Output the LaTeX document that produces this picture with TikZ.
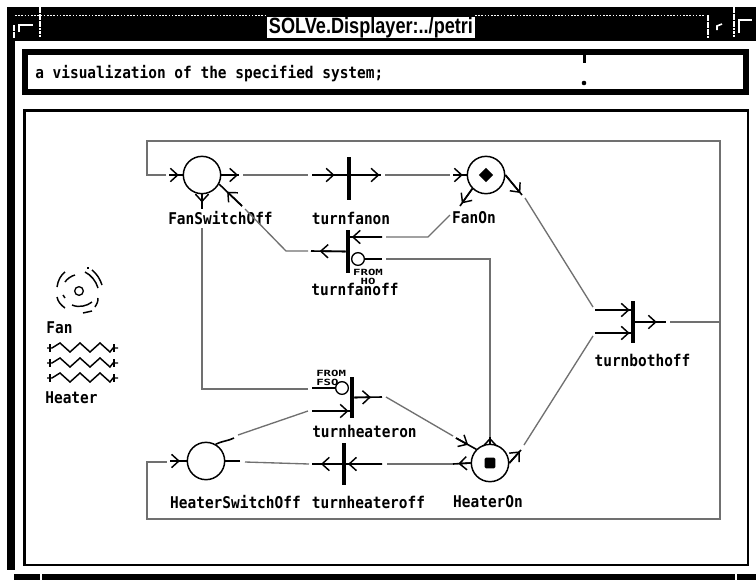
\documentclass[tikz,border=0pt]{standalone}
\usepackage{fontspec}
\usepackage{graphicx}
\usetikzlibrary{arrows.meta,calc}
\newfontfamily\pixfont{DejaVu Sans Mono}
\newfontfamily\titlefont{Liberation Sans}
\definecolor{arcgrey}{HTML}{707070}
\newcommand{\pix}[1]{\scalebox{1}[1.12]{\fontsize{10.88}{12}\pixfont\bfseries\selectfont #1}}
\newcommand{\mini}[1]{\scalebox{1.45}[1]{\fontsize{6.4}{7}\pixfont\bfseries\selectfont #1}}
\tikzset{
  place/.style={circle,draw=black,line width=1.1bp,minimum size=28bp,inner sep=0pt,fill=white},
  bar/.style={rectangle,fill=black,inner sep=0pt,minimum width=3bp},
  inhib/.style={circle,draw=black,line width=1bp,minimum size=9.5bp,inner sep=0pt,fill=white},
  lab/.style={inner sep=0pt,text=black},
  arc/.style={draw=arcgrey,line width=1bp},
  stub/.style={draw=black,line width=1.2bp},
  barb/.style={-{Straight Barb[length=5.5bp,width=10bp,line width=1.1bp]}},
  frame/.style={draw=black,fill=white},
  chrome/.style={fill=black,draw=none},
  tick/.style={draw=white,line width=.9bp,dash pattern=on 2bp off .6bp},
  dith/.style={draw=white,line width=.7bp,dash pattern=on 1.2bp off 1.2bp},
  icon/.style={draw=black,line width=1.1bp}
}
% black stub from #1 to #2, its barb's tip at fraction #3 of the way
\newcommand{\stubarrow}[3]{%
  \draw[stub] (#1) -- (#2);
  \draw[stub,barb] (#1) -- ($(#1)!#3!(#2)$);}
\begin{document}
\begin{tikzpicture}[x=0.75bp,y=-0.75bp]
\useasboundingbox (0,0) rectangle (756,580);
\fill[white] (0,0) rectangle (756,580);
% window chrome
\fill[chrome] (7,7) rectangle (756,41);
\fill[chrome] (7,41) rectangle (15,570);
\fill[chrome] (14,574) rectangle (756,580);
\draw[dith] (15,15) -- (267,15);
\draw[dith] (475,15) -- (705,15);
\draw[dith] (15,41) -- (756,41);
\draw[dith] (15,573) -- (756,573);
\draw[tick] (40,7) -- (40,38);
\draw[tick] (14,25) -- (14,38);
\draw[tick] (734,7) -- (734,38);
\draw[tick] (708,15) -- (708,38);
\draw[white,line width=1bp] (19,32) -- (19,25) -- (33,25);
\draw[white,line width=1bp] (739,33) -- (739,20) -- (752,20);
\draw[white,line width=1.2bp] (717,30) -- (717,26) -- (722,24);
\draw[tick] (41,574) -- (41,580);
\draw[tick] (736,574) -- (736,580);
\node[rectangle,fill=white,minimum width=156bp,minimum height=15.5bp,inner sep=0pt] (titlebox) at (371,27.5) {};
\node[lab] (title) at (titlebox.center) {\resizebox{153bp}{12bp}{\titlefont\bfseries SOLVe.Displayer:../petri}};
% message box
\draw[frame,line width=4.5bp] (25,52) rectangle (746,92);
\fill[black] (582.5,55) rectangle (585.5,63);
\fill[black] (584,83) circle (2.3);
\node[lab,anchor=west] (msg) at (35,74) {\pix{a visualization of the specified system;}};
% main frame
\draw[frame,line width=2bp] (24.5,110.5) rectangle (748,565);
% fan and heater icons
\node[circle,draw=black,line width=1bp,minimum size=6.5bp,inner sep=0pt] (fanhub) at (79,291) {};
\draw[icon] (57,287) .. controls (58,280) and (61,275) .. (65,272);
\draw[icon] (65,282) .. controls (67,279) and (71,276) .. (75,275);
\draw[icon] (92,270) .. controls (97,274) and (100,279) .. (102,285);
\draw[icon] (85,272) .. controls (91,275) and (96,281) .. (98,288);
\draw[icon] (57,297) .. controls (58,302) and (61,305) .. (65,308);
\draw[icon] (63,295) -- (65,298);
\draw[icon] (72,305) .. controls (79,308) and (87,306) .. (92,302);
\draw[icon] (98,298) .. controls (98,302) and (97,304) .. (95,307);
\draw[icon] (83,313) -- (92,311);
\draw[icon] (87,268) -- (89,268);
\foreach \yy in {348,363,378}{
  \draw[icon,line join=miter] (47,\yy) -- (52,\yy) -- (60,\yy-5) -- (70,\yy+4) -- (80,\yy-5) -- (90,\yy+4) -- (100,\yy-5) -- (110,\yy+4) -- (113,\yy) -- (118,\yy);
  \draw[icon] (50,\yy-4) -- (50,\yy+4);
  \draw[icon] (114,\yy-4) -- (114,\yy+4);
}
\node[lab] (fanlabel) at (59.5,328) {\pix{Fan}};
\node[lab] (heaterlabel) at (71.5,398) {\pix{Heater}};
% bend points of the long loop
\coordinate (loopTL) at (147,141);
\coordinate (loopTR) at (720,141);
\coordinate (loopBR) at (720,519);
\coordinate (loopBL) at (147,519);
\coordinate (loopFS) at (147,175);
\coordinate (loopHS) at (147,462);
\coordinate (loopR) at (720,322);
% places
\node[place] (fs) at (202,175) {};
\node[place] (fo) at (486,175) {};
\node[place] (hs) at (206,461) {};
\node[place] (ho) at (490,463) {};
\node[rectangle,fill=black,rotate=45,minimum size=7.5bp,inner sep=0pt] (fotok) at (486,175) {};
\node[rectangle,fill=black,rounded corners=1bp,minimum size=8bp,inner sep=0pt] (hotok) at (490,463) {};
% transitions
\node[bar,minimum height=32bp] (tfon) at (349,178.5) {};
\node[bar,minimum height=32bp] (tfoff) at (348,251.5) {};
\node[bar,minimum height=31bp] (thon) at (352,397.5) {};
\node[bar,minimum height=32bp] (thoff) at (344,464) {};
\node[bar,minimum height=32bp] (tboff) at (633,322) {};
\node[inhib] (inhF) at (358,259) {};
\node[inhib] (inhH) at (342,388) {};
% labels
\node[lab] (lfs) at (220.5,218) {\pix{FanSwitchOff}};
\node[lab] (ltfon) at (351,218) {\pix{turnfanon}};
\node[lab] (ltfoff) at (355,289) {\pix{turnfanoff}};
\node[lab] (lfo) at (474,218) {\pix{FanOn}};
\node[lab] (ltb) at (642.5,360) {\pix{turnbothoff}};
\node[lab] (lthon) at (364.5,431) {\pix{turnheateron}};
\node[lab] (lhs) at (235.5,502) {\pix{HeaterSwitchOff}};
\node[lab] (lthoff) at (368.5,502) {\pix{turnheateroff}};
\node[lab] (lho) at (488,502) {\pix{HeaterOn}};
\node[lab] (fromA) at (368,272) {\mini{FROM}};
\node[lab] (hoA) at (368,281) {\mini{HO}};
\node[lab,anchor=west] (fromB) at (316,373) {\mini{FROM}};
\node[lab,anchor=west] (fsoB) at (316,382) {\mini{FSO}};
% stub end points
\coordinate (a1) at (166,175); \coordinate (a2) at (169,175);
\coordinate (b1) at (239,175); \coordinate (b2) at (243,175);
\coordinate (c1) at (308,175); \coordinate (c2) at (312,175);
\coordinate (d1) at (381,175); \coordinate (d2) at (385,175);
\coordinate (e1) at (450,175); \coordinate (e2) at (453,175);
\coordinate (f1) at (202,209); \coordinate (f2) at (202,228);
\coordinate (g1) at (202,389);\coordinate (g2) at (308,389); \coordinate (g3) at (312,388);
\coordinate (h1) at (382,237); \coordinate (h2) at (386,237); \coordinate (h3) at (428,237); \coordinate (h4) at (450,215);
\coordinate (h5) at (460,206);
\coordinate (i1) at (382,259); \coordinate (i2) at (386,259); \coordinate (i3) at (490,259); \coordinate (i4) at (490,437);
\coordinate (j1) at (311,251); \coordinate (j2) at (308,251); \coordinate (j3) at (286,251); \coordinate (j4) at (245,209); \coordinate (j5) at (242,206);
\coordinate (k1) at (312,411); \coordinate (k2) at (308,411); \coordinate (k3) at (238,435); \coordinate (k4) at (234,438);
\coordinate (l1) at (382,397); \coordinate (l2) at (386,397); \coordinate (l3) at (453,436); \coordinate (l4) at (456,438);
\coordinate (m1) at (453,464); \coordinate (m2) at (387,464); \coordinate (m3) at (382,464);
\coordinate (n1) at (312,464); \coordinate (n2) at (309,464); \coordinate (n3) at (245,462); \coordinate (n4) at (240,461);
\coordinate (o1) at (167,462); \coordinate (o2) at (170,461);
\coordinate (p1) at (666,322); \coordinate (p2) at (670,322);
\coordinate (q1) at (595,310); \coordinate (q2) at (593,307); \coordinate (q3) at (525,198); \coordinate (q4) at (522,195);
\coordinate (r1) at (595,333); \coordinate (r2) at (593,336); \coordinate (r3) at (524,445); \coordinate (r4) at (521,450);
% where horizontal stubs meet the transition bars
\coordinate (tfonW) at (tfon.west |- c2);
\coordinate (tfonE) at (tfon.east |- d1);
\coordinate (tfoffE) at (tfoff.east |- h1);
\coordinate (thonW) at (thon.west |- k1);
\coordinate (tbW1) at (tboff.west |- q1);
\coordinate (tbW2) at (tboff.west |- r1);
% grey arcs
\draw[arc] (a1) -- (loopFS) -- (loopTL) -- (loopTR) -- (loopBR) -- (loopBL) -- (loopHS) -- (o1);
\draw[arc] (p2) -- (loopR);
\draw[arc] (b2) -- (c1);
\draw[arc] (d2) -- (e1);
\draw[arc] (f2) -- (g1) -- (g2);
\draw[arc] (h2) -- (h3) -- (h4);
\draw[arc] (i2) -- (i3) -- (i4);
\draw[arc] (j2) -- (j3) -- (j4);
\draw[arc] (k2) -- (k3);
\draw[arc] (l2) -- (l3);
\draw[arc] (m1) -- (m2);
\draw[arc] (n2) -- (n3);
\draw[arc] (q2) -- (q3);
\draw[arc] (r2) -- (r3);
% black stubs
\stubarrow{a2}{fs.west}{.72}
\stubarrow{fs.east}{b1}{.95}
\stubarrow{c2}{tfonW}{.65}
\stubarrow{tfonE}{d1}{.95}
\stubarrow{e2}{fo.west}{.72}
\stubarrow{fs.south}{f1}{.55}
\draw[stub] (g3) -- (inhH.west);
\stubarrow{h1}{tfoffE}{.95}
\draw[stub] (i1) -- (inhF.east);
\stubarrow{tfoff.west}{j1}{.75}
\stubarrow{j5}{fs.-28}{.65}
\stubarrow{k1}{thonW}{.97}
\draw[stub] (hs.60) .. controls (222,441) and (228,441) .. (k4);
\stubarrow{thon.east}{l1}{.6}
\stubarrow{l4}{ho.north west}{.6}
\stubarrow{m3}{thoff.east}{.95}
\stubarrow{thoff.west}{n1}{.7}
\stubarrow{ho.west}{m1}{.7}
\draw[stub] (n4) -- (hs.east);
\stubarrow{o2}{hs.west}{.6}
\stubarrow{tboff.east}{p1}{.7}
\stubarrow{q1}{tbW1}{.97}
\stubarrow{r1}{tbW2}{.97}
\stubarrow{fo.east}{q4}{.9}
\stubarrow{ho.east}{r4}{.9}
\stubarrow{fo.south west}{h5}{.85}
\stubarrow{ho.north}{i4}{.9}
\end{tikzpicture}
\end{document}
